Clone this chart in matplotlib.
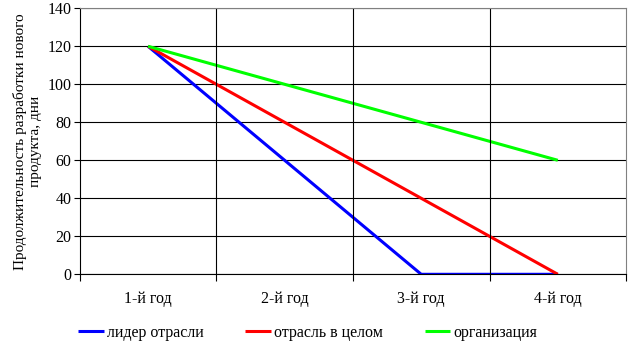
import matplotlib.pyplot as plt
from matplotlib.ticker import MultipleLocator

plt.rcParams['font.family'] = ['Liberation Serif', 'DejaVu Serif']

years = ["1-й год", "2-й год", "3-й год", "4-й год"]
leader = [120, 60, 0, 0]
industry = [120, 80, 40, 0]
org = [120, 100, 80, 60]

names = ["лидер отрасли", "отрасль в целом", "организация"]
colors = ["#0000ff", "#ff0000", "#00ff00"]

fig = plt.figure(figsize=(6.28, 3.44), dpi=100)
ax = fig.add_axes([0.127, 0.2026, 0.87, 0.7733])

x = list(range(len(years)))
for vals, name, c in zip([leader, industry, org], names, colors):
    ax.plot(x, vals, color=c, lw=2.2, label=name, solid_capstyle='butt')

ax.set_xlim(-0.5, 3.5)
ax.set_ylim(0, 140)
ax.yaxis.set_major_locator(MultipleLocator(20))
ax.grid(axis='y', color='black', lw=0.8)
for b in [0.5, 1.5, 2.5]:
    ax.axvline(b, color='black', lw=0.8)

ax.set_xticks(x)
ax.set_xticklabels(years, fontsize=11.5)
ax.tick_params(axis='x', length=0, pad=12)
ax.set_xticks([-0.5, 0.5, 1.5, 2.5, 3.5], minor=True)
ax.tick_params(axis='x', which='minor', length=5, width=0.8, direction='out')
ax.tick_params(axis='y', length=4, width=0.8, labelsize=11.5, pad=2)
ax.set_axisbelow(True)

for s in ['top', 'right']:
    ax.spines[s].set_color('#808080')
for s in ['left', 'bottom']:
    ax.spines[s].set_linewidth(0.8)

ax.set_ylabel("Продолжительность разработки нового\nпродукта, дни", fontsize=11, labelpad=4)

fig.legend(loc='center left', bbox_to_anchor=(0.102, 0.032), ncol=3, frameon=False,
           fontsize=11.5, handlelength=1.6, handletextpad=0.2, columnspacing=2.6)

fig.savefig("out.png", dpi=100)
